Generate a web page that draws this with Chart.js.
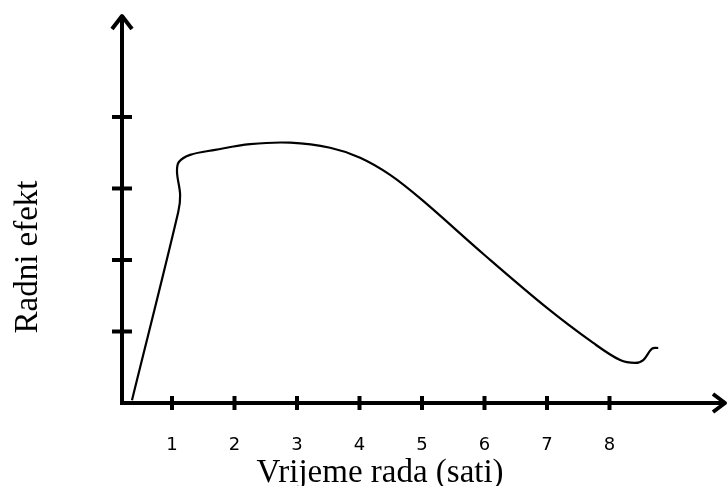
<!DOCTYPE html>
<html><head><meta charset="utf-8">
<script src="https://cdn.jsdelivr.net/npm/chart.js@4"></script>
<style>html,body{margin:0;padding:0;background:#fff}#wrap{width:728px;height:486px}</style>
</head><body><div id="wrap"><canvas id="c" width="728" height="486"></canvas></div>
<script>
// Work effect curve (x = hours, y = effect units)
const curveX = [0.36, 1.10, 1.13, 1.08, 1.11, 1.29, 1.69, 2.25, 2.89, 3.53, 4.01, 4.49, 5.00, 6.00, 7.00, 7.74, 8.17, 8.41, 8.54, 8.68, 8.78];
const curveY = [0.04, 2.67, 2.91, 3.23, 3.37, 3.47, 3.54, 3.62, 3.64, 3.57, 3.43, 3.19, 2.84, 2.07, 1.33, 0.84, 0.60, 0.56, 0.60, 0.76, 0.77];
const xTicks = [1, 2, 3, 4, 5, 6, 7, 8];
const yTicks = [1, 2, 3, 4];
const xTitle = 'Vrijeme rada (sati)';
const yTitle = 'Radni efekt';

const points = curveX.map((v, i) => ({x: v, y: curveY[i]}));

const axesPlugin = {
  id: 'axesArrows',
  afterDraw(chart) {
    const {ctx, scales: {x, y}} = chart;
    const ox = x.left, oy = y.getPixelForValue(0);
    ctx.save();
    ctx.strokeStyle = '#000';
    ctx.lineWidth = 4;
    ctx.lineCap = 'butt';
    // y axis
    ctx.beginPath(); ctx.moveTo(ox, oy + 2); ctx.lineTo(ox, y.top + 3); ctx.stroke();
    // x axis
    ctx.beginPath(); ctx.moveTo(ox - 2, oy); ctx.lineTo(x.right - 3, oy); ctx.stroke();
    // arrow heads
    ctx.lineJoin = 'round';
    ctx.beginPath(); ctx.moveTo(ox - 10, y.top + 15); ctx.lineTo(ox, y.top + 2); ctx.lineTo(ox + 10, y.top + 15); ctx.stroke();
    ctx.beginPath(); ctx.moveTo(x.right - 14, oy - 9); ctx.lineTo(x.right - 2, oy); ctx.lineTo(x.right - 14, oy + 9); ctx.stroke();
    // tick marks
    yTicks.forEach(v => {
      const p = y.getPixelForValue(v);
      ctx.beginPath(); ctx.moveTo(ox - 10, p); ctx.lineTo(ox + 10, p); ctx.stroke();
    });
    xTicks.forEach(v => {
      const p = x.getPixelForValue(v);
      ctx.beginPath(); ctx.moveTo(p, oy - 7); ctx.lineTo(p, oy + 7); ctx.stroke();
    });
    // axis titles
    ctx.fillStyle = '#000';
    ctx.font = '33px "Liberation Serif"';
    ctx.textAlign = 'center';
    ctx.textBaseline = 'alphabetic';
    ctx.fillText(xTitle, 380, 482);
    ctx.translate(37, 257);
    ctx.rotate(-Math.PI / 2);
    ctx.fillText(yTitle, 0, 0);
    ctx.restore();
  }
};

new Chart(document.getElementById('c'), {
  type: 'scatter',
  data: {
    datasets: [{
      data: points,
      showLine: true,
      borderColor: '#000',
      borderWidth: 2.2,
      pointRadius: 0,
      pointHoverRadius: 0,
      tension: 0.35,
      fill: false,
      clip: false
    }]
  },
  options: {
    responsive: false,
    animation: false,
    events: [],
    layout: {padding: {top: 14, right: 1, left: 0, bottom: 0}},
    plugins: {legend: {display: false}, tooltip: {enabled: false}, title: {display: false}},
    scales: {
      x: {
        type: 'linear',
        min: 0.2,
        max: 9.88,
        grid: {display: false, drawTicks: false},
        border: {display: false},
        afterBuildTicks: s => { s.ticks = xTicks.map(v => ({value: v})); },
        afterFit: s => { s.height = 83; },
        ticks: {
          color: '#000',
          padding: 32,
          maxRotation: 0,
          autoSkip: false,
          font: {family: '"DejaVu Sans"', size: 18},
          callback: v => String(v)
        }
      },
      y: {
        type: 'linear',
        min: 0,
        max: 5.44,
        grid: {display: false, drawTicks: false},
        border: {display: false},
        afterBuildTicks: s => { s.ticks = yTicks.map(v => ({value: v})); },
        afterFit: s => { s.width = 122; },
        ticks: {display: false}
      }
    }
  },
  plugins: [axesPlugin]
});
</script>
</body></html>
